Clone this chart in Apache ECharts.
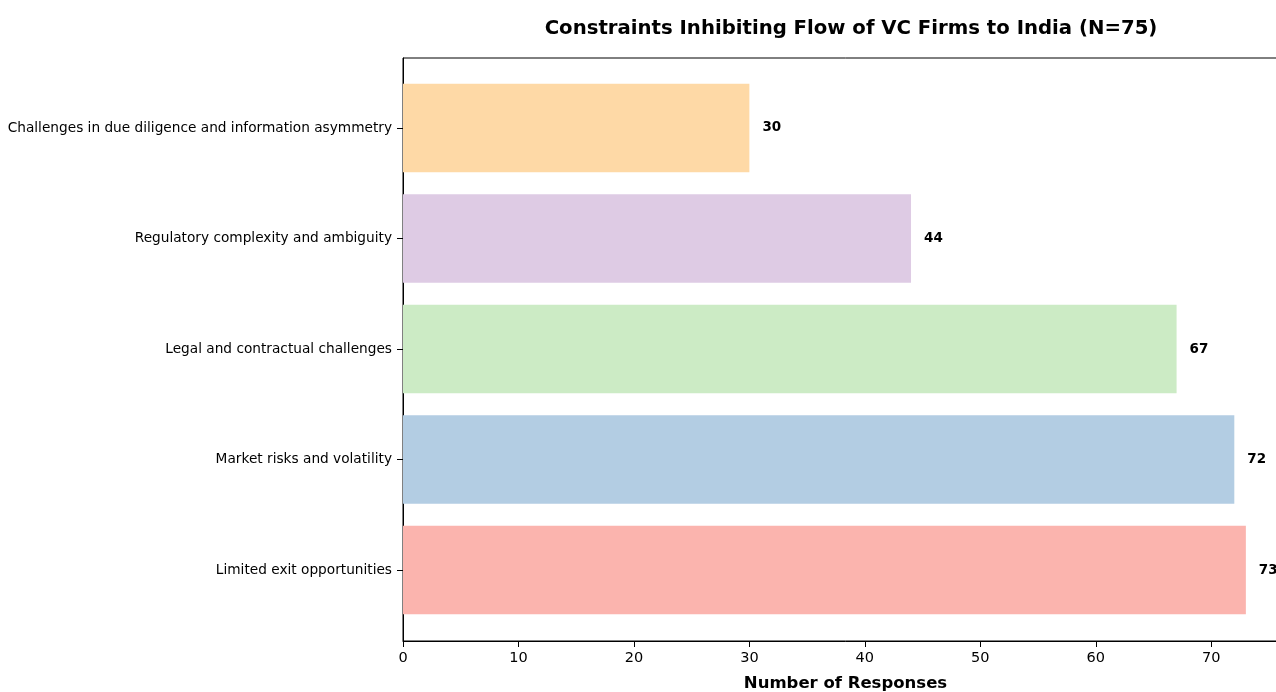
<!DOCTYPE html>
<html>
<head>
<meta charset="utf-8">
<script src="https://cdn.jsdelivr.net/npm/echarts@6/dist/echarts.min.js"></script>
<style>
  html, body { margin: 0; padding: 0; background: #fff; overflow: hidden; }
  /* the plot's right edge sits just past the visible window */
  #chart { width: 1288px; height: 692px; }
</style>
</head>
<body>
<div id="chart"></div>
<script>
// Survey responses, listed bottom to top
const categories = [
  'Limited exit opportunities',
  'Market risks and volatility',
  'Legal and contractual challenges',
  'Regulatory complexity and ambiguity',
  'Challenges in due diligence and information asymmetry'
];
const responses = [73, 72, 67, 44, 30];
const barColors = ['#fbb4ae', '#b3cde3', '#ccebc5', '#decbe4', '#fed9a6'];
const xTicks = [0, 10, 20, 30, 40, 50, 60, 70];

const xMax = Math.max(...responses) * 1.05;
const FONT = 'DejaVu Sans';

const chart = echarts.init(document.getElementById('chart'), null, { renderer: 'canvas' });

chart.setOption({
  animation: false,
  backgroundColor: '#ffffff',
  title: {
    text: 'Constraints Inhibiting Flow of VC Firms to India (N=75)',
    left: 846,
    textAlign: 'center',
    top: 14,
    textStyle: { fontFamily: FONT, fontSize: 19.7, fontWeight: 'bold', color: '#000' }
  },
  grid: [
    // outer frame with the value axis
    { left: 403, right: 0, top: 58, bottom: 51, outerBoundsMode: 'none', containLabel: false,
      show: true, borderColor: '#000', borderWidth: 1, backgroundColor: 'transparent' },
    // inner band area for the category bars
    { left: 403, right: 0, top: 72.7, bottom: 66.7, outerBoundsMode: 'none', containLabel: false }
  ],
  xAxis: [
    {
      gridIndex: 0, type: 'value', min: 0, max: xMax, interval: 10,
      name: 'Number of Responses', nameLocation: 'middle', nameGap: 34,
      nameTextStyle: { fontFamily: FONT, fontSize: 16.5, fontWeight: 'bold', color: '#000' },
      axisLine: { show: true, lineStyle: { color: '#000', width: 1 } },
      axisTick: { show: true, length: 6, lineStyle: { color: '#000' } },
      axisLabel: {
        fontFamily: FONT, fontSize: 14.5, color: '#000', margin: 10,
        showMaxLabel: false,
        formatter: v => (xTicks.indexOf(v) >= 0 ? String(v) : '')
      },
      splitLine: { show: false }
    },
    {
      gridIndex: 1, type: 'value', min: 0, max: xMax,
      show: false, splitLine: { show: false }
    }
  ],
  yAxis: [
    {
      gridIndex: 0, type: 'value', min: 0, max: 1,
      axisLine: { show: true, lineStyle: { color: '#000' } },
      axisTick: { show: false }, axisLabel: { show: false }, splitLine: { show: false }
    },
    {
      gridIndex: 1, type: 'category', data: categories,
      axisLine: { show: false },
      axisTick: { show: true, alignWithLabel: true, length: 6, lineStyle: { color: '#000' } },
      axisLabel: { fontFamily: FONT, fontSize: 13.7, color: '#000', margin: 11 },
      splitLine: { show: false }
    }
  ],
  series: [
    {
      type: 'bar',
      xAxisIndex: 1, yAxisIndex: 1,
      barWidth: '80%',
      data: responses.map((v, i) => ({ value: v, itemStyle: { color: barColors[i] } })),
      label: {
        show: true, position: 'right', distance: 13,
        fontFamily: FONT, fontSize: 13.5, fontWeight: 'bold', color: '#000'
      }
    }
  ]
});
</script>
</body>
</html>
